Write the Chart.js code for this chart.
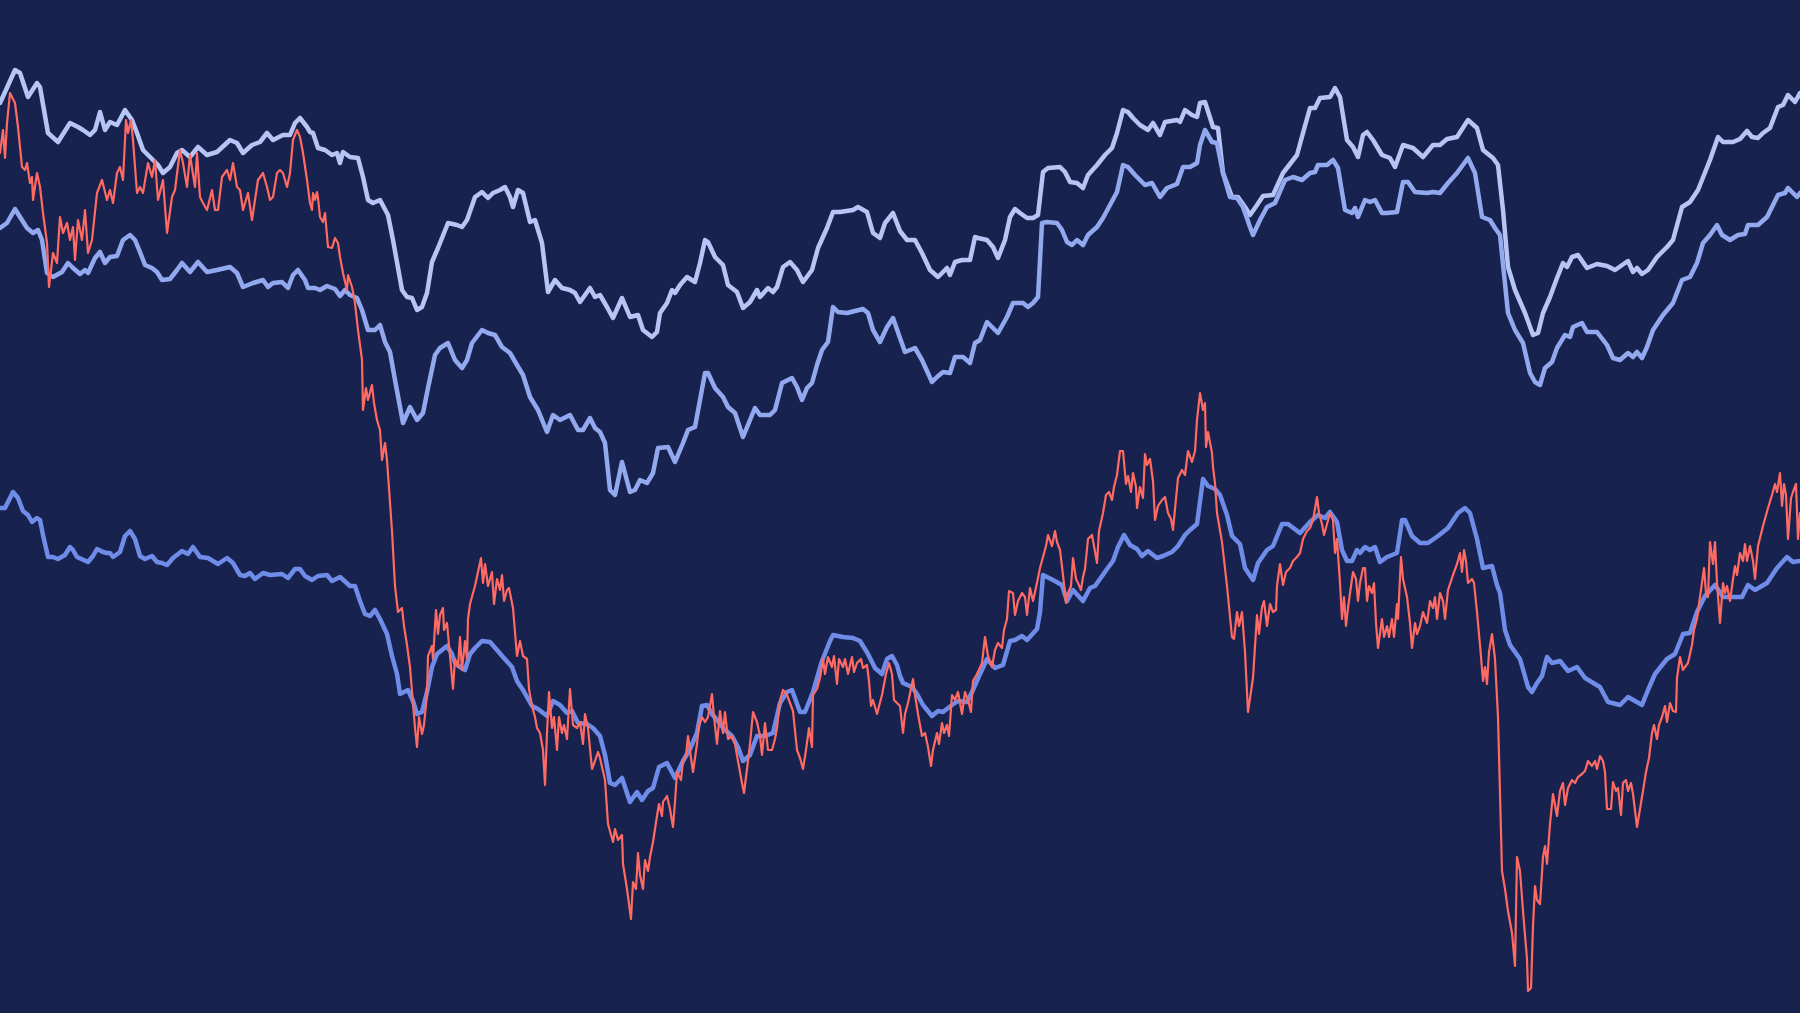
<!DOCTYPE html>
<html>
<head>
<meta charset="utf-8">
<title>Price and bands</title>
<script src="https://cdn.jsdelivr.net/npm/chart.js@4.4.1/dist/chart.umd.min.js"></script>
<style>
  html, body { margin: 0; padding: 0; background: #17224e; overflow: hidden; }
  #chart { display: block; }
</style>
</head>
<body>
<canvas id="chart" width="1800" height="1013"></canvas>
<script>
// [day, level] pairs
const price = [
  [0,860],[3,883],[5,855],[7,890],[10,920],[15,910],[18,886],[22,846],[25,843],[27,850],[30,830],[32,836],[33,813],[37,840],[40,826],[43,800],[47,770],[49,726],[53,760],[57,750],[60,796],[63,780],[67,790],[70,773],[73,786],[75,753],[78,793],[82,773],[85,803],[88,760],[92,773],[97,820],[102,833],[107,813],[110,823],[113,810],[117,840],[120,846],[123,833],[126,893],[128,880],[131,893],[133,873],[137,820],[140,826],[143,820],[148,850],[152,836],[155,853],[158,813],[163,833],[167,780],[172,816],[175,823],[180,863],[183,850],[187,826],[190,858],[195,826],[197,860],[200,816],[203,810],[207,803],[212,823],[215,803],[218,803],[222,836],[227,843],[230,833],[233,850],[237,826],[240,823],[243,803],[248,820],[252,793],[255,813],[258,833],[263,840],[267,826],[270,813],[273,816],[277,840],[280,843],[283,840],[287,826],[290,840],[293,873],[297,883],[300,876],
  [303,860],[307,833],[310,810],[312,803],[313,820],[315,813],[317,821],[318,815],[320,796],[323,791],[325,800],[328,766],[332,765],[335,775],[338,770],[340,756],[343,740],[347,723],[348,738],[352,726],[355,710],[358,683],[362,653],[363,603],[366,625],[368,613],[372,628],[374,610],[377,593],[380,583],[382,553],[385,570],[387,553],[392,482],[395,427],[398,401],[402,405],[404,387],[407,368],[410,346],[413,310],[415,285],[417,266],[419,296],[422,279],[424,288],[427,318],[428,357],[432,367],[433,354],[436,403],[438,379],[440,398],[443,405],[444,383],[447,390],[450,357],[453,324],[455,354],[458,346],[460,376],[462,343],[465,372],[467,354],[468,394],[470,409],[473,420],[475,427],[478,441],[481,455],[483,430],[485,449],[488,427],[492,441],[494,409],[497,434],[500,423],[502,438],[504,412],[507,423],[509,425],[513,405],[517,357],[520,372],[523,357],[527,354],[529,324],[532,307],[535,296],[537,285],[540,280],[543,263],[545,228],[547,280],[549,321],[552,285],[554,296],[557,263],[559,296],[562,280],[564,288],[567,274],[570,324],[573,288],[577,285],[580,291],[583,269],[585,299],[588,285],[592,244],[595,252],[598,261],[600,255],
  [605,233],[608,189],[613,171],[615,184],[618,173],[622,178],[623,149],[627,124],[631,94],[633,131],[636,124],[638,160],[640,138],[643,124],[645,153],[648,142],[650,156],[653,171],[657,197],[659,209],[662,197],[663,211],[667,217],[670,204],[673,186],[675,211],[677,241],[681,233],[683,252],[686,258],[688,277],[691,255],[693,241],[697,269],[699,288],[702,296],[705,291],[708,296],[712,319],[714,296],[717,269],[720,302],[723,280],[725,301],[728,274],[732,277],[735,269],[738,252],[742,230],[744,220],[747,244],[750,269],[753,301],[757,291],[760,277],[762,258],[765,290],[768,263],[772,263],[775,274],[777,285],[780,313],[783,323],[787,318],[790,310],[793,302],[797,263],[800,255],[803,244],[806,263],[809,285],[812,266],[813,318],[817,324],[820,335],[823,354],[825,339],[828,356],[832,346],[834,357],[837,329],[839,354],[843,346],[845,354],[848,339],[852,356],[854,341],[857,350],[861,354],[863,345],[867,348],[869,332],[871,307],[873,313],[877,299],[882,318],[886,339],[889,350],[892,339],[894,313],[897,310],[900,307],
  [903,280],[905,299],[908,310],[913,334],[915,318],[918,299],[922,277],[925,280],[928,266],[931,247],[933,263],[937,280],[939,269],[942,290],[944,280],[947,288],[949,277],[952,318],[955,313],[958,321],[962,299],[965,321],[968,313],[971,301],[973,332],[977,339],[982,350],[985,376],[988,357],[992,346],[995,363],[998,370],[1002,365],[1004,383],[1007,394],[1009,422],[1013,420],[1015,398],[1018,412],[1022,420],[1025,416],[1027,398],[1030,425],[1033,412],[1037,430],[1040,445],[1043,456],[1046,467],[1048,478],[1052,467],[1055,482],[1057,471],[1060,463],[1063,438],[1066,410],[1068,420],[1071,427],[1073,455],[1076,434],[1078,430],[1081,423],[1083,436],[1085,444],[1088,474],[1092,478],[1094,467],[1097,450],[1099,482],[1103,500],[1106,518],[1109,521],[1112,513],[1114,526],[1117,538],[1120,562],[1123,562],[1126,529],[1128,537],[1131,521],[1133,540],[1136,526],[1137,505],[1140,526],[1143,515],[1145,559],[1147,548],[1150,554],[1153,532],[1155,493],[1158,507],[1162,513],[1165,516],[1168,500],[1171,494],[1173,483],[1175,504],[1178,535],[1182,543],[1185,538],[1188,562],[1192,551],[1195,562],[1197,593],
  [1200,620],[1203,603],[1205,610],[1206,566],[1208,581],[1212,560],[1213,546],[1215,530],[1217,500],[1222,471],[1227,427],[1232,376],[1234,374],[1237,401],[1239,387],[1242,401],[1245,361],[1248,301],[1253,335],[1257,398],[1259,379],[1262,406],[1264,412],[1267,387],[1270,409],[1273,401],[1276,403],[1277,427],[1280,449],[1283,428],[1286,441],[1290,445],[1293,452],[1297,456],[1300,460],[1303,474],[1307,482],[1310,485],[1313,493],[1317,516],[1319,500],[1322,489],[1324,478],[1327,489],[1330,500],[1333,493],[1335,460],[1337,474],[1340,430],[1342,394],[1344,416],[1346,387],[1348,405],[1351,427],[1353,441],[1356,434],[1358,412],[1360,430],[1363,445],[1365,445],[1367,412],[1369,427],[1372,420],[1374,430],[1376,390],[1378,365],[1382,394],[1384,376],[1387,387],[1389,376],[1392,394],[1394,376],[1397,409],[1398,394],[1401,456],[1403,434],[1407,416],[1410,390],[1412,365],[1415,390],[1417,379],[1420,387],[1423,401],[1427,390],[1430,412],[1433,405],[1435,416],[1437,394],[1440,420],[1443,412],[1445,394],[1448,423],[1453,438],[1457,449],[1460,460],[1462,441],[1464,463],[1466,452],[1468,430],[1472,434],[1474,430],[1477,401],[1480,368],[1483,332],[1485,346],[1487,329],[1489,361],[1492,379],[1495,354],[1498,296],
  [1502,142],[1505,124],[1508,102],[1512,80],[1515,47],[1517,156],[1520,142],[1523,102],[1527,54],[1528,22],[1531,25],[1533,87],[1535,127],[1537,113],[1540,109],[1543,156],[1545,167],[1547,149],[1550,189],[1553,219],[1555,208],[1557,197],[1560,222],[1563,230],[1565,208],[1568,225],[1572,233],[1575,230],[1578,236],[1582,239],[1585,242],[1588,252],[1592,247],[1595,252],[1597,244],[1600,257],[1603,252],[1605,241],[1607,204],[1611,204],[1613,231],[1616,222],[1618,225],[1621,198],[1623,230],[1626,233],[1628,222],[1631,230],[1633,219],[1637,186],[1640,204],[1643,222],[1646,241],[1649,255],[1652,280],[1654,288],[1657,274],[1659,288],[1662,296],[1665,307],[1667,291],[1670,310],[1673,302],[1676,301],[1677,335],[1680,356],[1683,343],[1685,346],[1688,350],[1692,368],[1694,383],[1697,394],[1699,409],[1702,430],[1704,445],[1706,420],[1708,416],[1710,471],[1713,449],[1715,471],[1717,430],[1720,390],[1723,430],[1725,420],[1727,427],[1730,412],[1733,434],[1735,447],[1737,438],[1740,460],[1743,452],[1745,469],[1747,452],[1750,467],[1753,452],[1755,434],[1758,467],[1763,487],[1768,505],[1772,518],[1775,529],[1777,521],[1780,540],[1782,507],[1784,529],[1786,518],[1788,474],[1791,515],[1793,521],[1796,529],[1798,474],[1800,500]
];

const average = [
  [0,505],[5,505],[13,521],[18,515],[23,502],[28,498],[32,491],[37,495],[40,493],[43,478],[48,456],[53,456],[58,454],[65,458],[70,466],[73,463],[77,456],[88,451],[93,457],[97,464],[103,461],[107,460],[110,460],[113,456],[120,461],[125,477],[130,482],[135,474],[140,457],[145,454],[152,457],[157,451],[162,450],[167,448],[173,455],[182,462],[188,459],[193,466],[200,456],[208,455],[218,449],[227,455],[233,450],[240,438],[245,437],[250,440],[255,434],[263,440],[270,438],[282,439],[288,435],[295,444],[300,444],
  [305,437],[312,433],[318,437],[327,438],[332,432],[340,436],[350,427],[355,427],[360,412],[365,399],[370,397],[375,403],[380,394],[387,379],[392,357],[397,339],[400,319],[408,323],[413,312],[417,299],[422,301],[427,321],[432,346],[437,359],[442,363],[447,367],[452,359],[455,350],[460,346],[465,343],[470,359],[475,365],[482,372],[490,371],[497,363],[503,356],[512,346],[517,332],[523,323],[532,307],[538,304],[547,297],[553,312],[560,308],[567,300],[572,302],[578,290],[587,289],[593,285],[600,277],
  [605,258],[610,230],[615,228],[622,235],[630,211],[637,221],[642,213],[648,222],[653,225],[659,246],[667,250],[675,235],[683,252],[690,264],[697,280],[702,307],[707,308],[712,299],[717,293],[723,285],[732,277],[738,266],[743,252],[750,258],[757,277],[765,277],[773,280],[780,310],[787,321],[792,323],[800,301],[805,301],[813,321],[822,352],[830,372],[833,378],[843,376],[853,375],[860,372],[868,359],[875,345],[882,339],[887,354],[892,357],[897,348],[900,337],
  [903,330],[912,326],[917,319],[923,308],[932,297],[938,302],[943,301],[952,308],[958,312],[967,311],[972,321],[980,339],[987,354],[995,345],[1003,348],[1010,372],[1015,373],[1022,377],[1027,373],[1037,384],[1040,401],[1043,438],[1053,433],[1062,428],[1067,412],[1073,423],[1083,412],[1090,425],[1095,427],[1100,434],[1107,444],[1113,452],[1118,466],[1124,478],[1130,468],[1137,464],[1142,457],[1148,462],[1157,455],[1163,457],[1172,461],[1178,467],[1185,478],[1190,483],[1197,489],
  [1203,534],[1208,527],[1215,524],[1220,518],[1227,498],[1232,477],[1240,469],[1245,445],[1253,433],[1258,450],[1267,463],[1273,467],[1282,489],[1288,489],[1300,480],[1310,491],[1318,498],[1325,495],[1330,501],[1337,491],[1342,463],[1347,452],[1352,452],[1357,463],[1360,460],[1365,466],[1370,463],[1375,466],[1380,451],[1387,456],[1397,460],[1402,493],[1405,493],[1412,477],[1420,470],[1428,470],[1438,477],[1448,485],[1458,500],[1465,505],[1470,500],[1477,474],[1483,445],[1492,447],[1497,428],[1500,420],
  [1505,383],[1510,368],[1520,354],[1528,326],[1532,321],[1537,330],[1542,337],[1547,356],[1552,350],[1560,352],[1568,342],[1577,346],[1585,335],[1600,326],[1608,311],[1620,308],[1628,316],[1642,308],[1648,323],[1655,339],[1667,354],[1675,359],[1683,379],[1690,380],[1697,401],[1705,417],[1715,428],[1723,416],[1735,416],[1742,416],[1748,428],[1755,423],[1767,430],[1777,445],[1787,456],[1793,451],[1800,452]
];

const middleBand = [
  [0,785],[7,790],[15,804],[20,796],[27,785],[33,780],[38,783],[42,773],[47,740],[53,736],[62,741],[68,750],[73,745],[80,739],[85,743],[88,740],[95,755],[100,761],[105,750],[110,756],[117,757],[123,773],[130,778],[135,773],[140,761],[145,748],[152,745],[157,741],[162,733],[170,734],[177,743],[182,750],[190,741],[198,751],[207,741],[217,743],[230,746],[237,740],[243,726],[253,730],[263,733],[268,726],[273,730],[282,731],[288,725],[293,738],[298,743],
  [305,733],[308,725],[315,725],[320,723],[327,727],[335,724],[340,717],[345,723],[350,718],[357,715],[362,703],[368,683],[375,683],[380,688],[385,671],[390,661],[395,633],[403,590],[410,606],[417,593],[423,600],[428,625],[435,658],[440,665],[448,670],[455,653],[462,645],[467,653],[472,670],[482,683],[488,680],[495,678],[502,666],[510,660],[517,648],[523,638],[530,616],[538,603],[547,581],[553,598],[560,593],[570,598],[578,583],[583,583],[590,595],[595,585],[600,581],
  [605,570],[610,523],[615,518],[622,551],[630,521],[635,523],[640,533],[647,530],[653,540],[658,565],[668,566],[675,551],[683,570],[688,583],[695,586],[700,613],[705,640],[708,640],[715,625],[723,616],[728,606],[735,600],[743,576],[750,593],[755,605],[760,598],[770,598],[775,603],[782,630],[792,635],[797,626],[802,613],[807,625],[812,630],[817,648],[822,663],[828,671],[833,706],[838,701],[847,700],[863,704],[868,700],[873,683],[880,671],[887,686],[893,695],[900,675],
  [905,661],[915,665],[922,653],[932,631],[937,636],[943,641],[950,640],[955,656],[963,656],[970,650],[975,670],[980,673],[987,691],[998,680],[1007,696],[1013,710],[1023,710],[1028,706],[1033,710],[1038,716],[1042,790],[1047,791],[1057,790],[1062,783],[1067,771],[1072,768],[1077,773],[1083,768],[1088,778],[1097,786],[1103,795],[1110,808],[1117,821],[1123,848],[1128,846],[1135,838],[1145,828],[1152,830],[1160,816],[1167,825],[1177,829],[1183,846],[1190,846],[1197,850],
  [1200,868],[1205,883],[1212,871],[1217,870],[1223,840],[1230,816],[1237,815],[1243,806],[1250,786],[1253,778],[1260,793],[1267,806],[1275,810],[1285,833],[1293,836],[1302,833],[1310,840],[1315,841],[1318,848],[1327,848],[1333,853],[1338,845],[1345,803],[1352,800],[1355,805],[1358,796],[1365,813],[1370,811],[1375,813],[1382,800],[1387,800],[1397,801],[1403,831],[1408,831],[1415,821],[1427,820],[1433,821],[1440,820],[1448,830],[1457,840],[1468,855],[1475,840],[1482,796],[1490,793],[1495,785],[1500,778],
  [1508,700],[1515,683],[1523,670],[1530,640],[1535,631],[1540,628],[1545,645],[1552,651],[1557,665],[1565,678],[1570,676],[1573,686],[1582,690],[1587,681],[1597,681],[1607,668],[1613,655],[1620,653],[1628,660],[1633,656],[1637,661],[1642,655],[1647,666],[1653,683],[1663,698],[1673,710],[1682,733],[1690,736],[1697,750],[1703,770],[1710,778],[1717,788],[1722,778],[1730,773],[1738,778],[1745,779],[1748,788],[1758,788],[1767,796],[1778,818],[1785,820],[1788,825],[1797,816],[1800,820]
];

const upperBand = [
  [0,910],[15,943],[20,940],[28,916],[37,930],[40,926],[48,880],[58,871],[70,890],[78,886],[83,883],[90,878],[95,883],[100,901],[105,883],[110,891],[117,888],[125,903],[132,893],[137,880],[143,863],[153,853],[158,848],[163,840],[170,846],[177,860],[182,863],[190,856],[198,866],[207,858],[217,861],[230,873],[237,870],[243,860],[252,868],[260,871],[267,880],[273,873],[283,878],[290,878],[295,890],[300,895],
  [307,886],[310,881],[313,880],[318,865],[325,863],[332,858],[337,860],[340,850],[343,861],[350,856],[358,855],[363,836],[368,813],[373,810],[380,813],[388,798],[393,773],[402,723],[407,716],[412,715],[417,703],[422,706],[427,720],[432,751],[438,765],[448,790],[457,788],[462,786],[467,793],[475,816],[482,821],[488,815],[493,820],[500,823],[505,826],[510,816],[513,806],[518,823],[523,820],[530,791],[535,793],[542,770],[548,721],[555,733],[562,725],[570,723],[575,720],[580,711],[590,725],[595,716],[600,718],
  [607,706],[613,695],[622,715],[630,696],[638,698],[643,683],[652,676],[657,681],[660,700],[667,710],[672,723],[675,720],[680,728],[687,736],[695,731],[700,750],[705,773],[708,771],[715,756],[723,748],[728,728],[737,721],[743,705],[750,711],[757,723],[760,716],[768,725],[773,721],[777,726],[783,746],[790,751],[797,743],[803,731],[812,743],[818,765],[827,785],[833,801],[840,801],[853,803],[858,806],[867,801],[873,780],[880,775],[885,790],[893,800],[900,782],
  [907,773],[915,773],[922,760],[930,743],[938,736],[947,745],[950,738],[955,751],[962,753],[970,753],[975,776],[978,775],[987,773],[993,766],[998,755],[1005,773],[1010,796],[1015,804],[1020,800],[1027,795],[1033,795],[1038,798],[1043,841],[1048,845],[1060,846],[1065,841],[1070,831],[1077,830],[1083,825],[1088,838],[1097,848],[1105,858],[1112,865],[1117,880],[1123,903],[1128,901],[1133,895],[1140,888],[1148,883],[1153,890],[1160,878],[1165,891],[1177,893],[1180,891],[1185,903],[1192,898],[1197,896],
  [1200,910],[1205,911],[1213,886],[1218,885],[1223,840],[1232,816],[1238,816],[1245,806],[1250,798],[1257,808],[1263,817],[1273,818],[1283,840],[1297,858],[1303,880],[1310,905],[1315,905],[1320,915],[1330,916],[1335,925],[1340,916],[1347,873],[1353,866],[1358,856],[1363,878],[1367,881],[1373,873],[1382,858],[1390,855],[1395,846],[1403,868],[1413,865],[1423,856],[1433,868],[1440,868],[1447,874],[1457,876],[1468,893],[1477,885],[1483,863],[1493,855],[1498,848],
  [1503,803],[1508,746],[1515,723],[1525,700],[1533,678],[1538,680],[1543,700],[1550,716],[1557,735],[1563,750],[1567,746],[1572,756],[1578,758],[1587,745],[1597,749],[1607,747],[1615,743],[1628,752],[1633,741],[1637,745],[1642,739],[1648,743],[1657,756],[1667,766],[1673,773],[1682,806],[1690,811],[1698,823],[1710,853],[1718,876],[1723,871],[1733,871],[1740,874],[1747,882],[1752,876],[1758,875],[1763,880],[1770,885],[1778,906],[1783,908],[1788,918],[1795,911],[1800,920]
];

const colors = {
  background: '#17224e',
  price: '#ff6a63',
  average: '#6e8ce8',
  middleBand: '#93a9ef',
  upperBand: '#b6c5f5'
};

function toPoints(series) {
  return series.map(([x, y]) => ({ x, y }));
}

function lineSet(label, series, color, width) {
  return {
    label: label,
    data: toPoints(series),
    borderColor: color,
    borderWidth: width,
    pointRadius: 0,
    tension: 0,
    fill: false,
    borderJoinStyle: 'round',
    borderCapStyle: 'round'
  };
}

const ctx = document.getElementById('chart').getContext('2d');
const chart = new Chart(ctx, {
  type: 'line',
  data: {
    datasets: [
      lineSet('Price', price, colors.price, 2.2),
      lineSet('Average', average, colors.average, 4.5),
      lineSet('Middle band', middleBand, colors.middleBand, 4.5),
      lineSet('Upper band', upperBand, colors.upperBand, 4.5)
    ]
  },
  options: {
    responsive: false,
    animation: false,
    devicePixelRatio: 1,
    layout: { padding: 0 },
    plugins: {
      legend: { display: false },
      tooltip: { enabled: false }
    },
    scales: {
      x: { type: 'linear', min: 0, max: 1800, display: false },
      y: { type: 'linear', min: 0, max: 1013, display: false }
    }
  }
});
</script>
</body>
</html>
